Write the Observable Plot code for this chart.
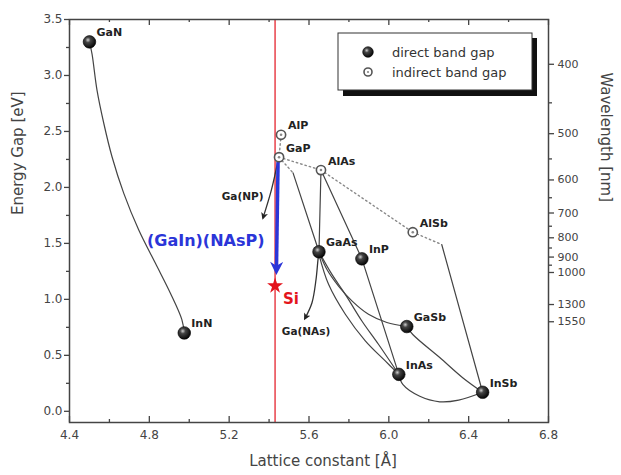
<!DOCTYPE html>
<html><head><meta charset="utf-8">
<script src="https://cdn.jsdelivr.net/npm/d3@7"></script>
<script src="https://cdn.jsdelivr.net/npm/@observablehq/plot@0.6"></script>
<style>body{margin:0;background:#fff;}</style>
</head><body><div id="chart"></div>
<script>
// ---- data ----
const directNames = ["GaN","InN","GaAs","InP","GaSb","InAs","InSb"];
const directA     = [4.50, 4.975, 5.65, 5.865, 6.09, 6.05, 6.47];
const directE     = [3.30, 0.70, 1.425, 1.362, 0.757, 0.33, 0.17];

const indirectNames = ["AlP","GaP","AlAs","AlSb"];
const indirectA     = [5.46, 5.45, 5.66, 6.12];
const indirectE     = [2.47, 2.27, 2.155, 1.60];

const siA = 5.43, siE = 1.12;

// solid alloy curves [a, E]
const curveGaNInN  = [[4.50,3.30],[4.513,3.19],[4.538,2.867],[4.572,2.571],[4.613,2.274],[4.672,1.947],[4.747,1.62],[4.83,1.324],[4.905,1.057],[4.963,0.819],[4.975,0.70]];
const curveGaPGaAs = [[5.52,2.13],[5.65,1.425]];
const curveAlAsGaAs = [[5.66,2.155],[5.65,1.425]];
const curveAlAsInP = [[5.66,2.155],[5.865,1.362]];
const curveInPInAs = [[5.865,1.362],[6.05,0.33]];
const curveGaAsGaSb = [[5.65,1.425],[5.69,1.267],[5.748,1.119],[5.815,0.986],[5.898,0.866],[5.99,0.793],[6.09,0.757]];
const curveGaAsInAs1 = [[5.65,1.425],[5.715,1.223],[5.782,1.045],[5.865,0.807],[5.948,0.599],[6.05,0.33]];
const curveGaAsInAs2 = [[5.65,1.40],[5.698,1.134],[5.782,0.867],[5.882,0.63],[5.982,0.45],[6.05,0.33]];
const curveGaSbInSb = [[6.09,0.757],[6.12,0.686],[6.255,0.48],[6.37,0.30],[6.47,0.17]];
const curveInAsInSb = [[6.05,0.33],[6.07,0.24],[6.155,0.134],[6.255,0.085],[6.35,0.10],[6.47,0.17]];
const curveAlSbInSb = [[6.265,1.49],[6.47,0.17]];

// dotted (indirect) parts
const dotAlPGaP  = [[5.46,2.47],[5.45,2.27]];
const dotGaPAlAs = [[5.45,2.27],[5.66,2.155]];
const dotGaPGaAs = [[5.45,2.27],[5.52,2.13]];
const dotAlAsAlSb = [[5.66,2.155],[6.12,1.60]];
const dotAlSbInSb = [[6.12,1.60],[6.265,1.49]];

// arrows
const arrowGaNP  = [[5.445,2.244],[5.412,1.98],[5.37,1.73]];
const arrowGaNAs = [[5.65,1.425],[5.645,1.354],[5.635,1.175],[5.615,0.97],[5.58,0.83]];
const arrowBlue  = [[5.445,2.23],[5.437,1.265]];

// annotation labels
const annNames = ["Ga(NP)","Ga(NAs)"];
const annA = [5.2675, 5.585];
const annE = [1.915, 0.712];
const blueLabel = "(GaIn)(NAsP)", blueA = 5.0825, blueE = 1.523;

// axes
const xMajor = [4.4,4.8,5.2,5.6,6.0,6.4,6.8];
const xMinor = [4.6,5.0,5.4,5.8,6.2,6.6];
const yMajor = [0,0.5,1.0,1.5,2.0,2.5,3.0,3.5];
const yMinor = [0.25,0.75,1.25,1.75,2.25,2.75,3.25];
const wlMajor = [400,500,600,700,800,900,1000,1300,1550];
const wlMinor = [450,550,650,750,850,950];
const hc = 1240;

// legend entries
const legendLabels = ["direct band gap","indirect band gap"];

// ---- build tables ----
const direct = directNames.map((n,i)=>({n, a:directA[i], e:directE[i]}));
const indirect = indirectNames.map((n,i)=>({n, a:indirectA[i], e:indirectE[i]}));
const allPts = direct.concat(indirect);
const toRows = list => list.flatMap(([k,pts]) => pts.map(([a,e]) => ({k,a,e})));
const solidRows = toRows([["GaN-InN",curveGaNInN],["GaP-GaAs",curveGaPGaAs],["AlAs-GaAs",curveAlAsGaAs],["AlAs-InP",curveAlAsInP],["InP-InAs",curveInPInAs],["GaAs-GaSb",curveGaAsGaSb],["GaAs-InAs1",curveGaAsInAs1],["GaAs-InAs2",curveGaAsInAs2],["GaSb-InSb",curveGaSbInSb],["InAs-InSb",curveInAsInSb],["AlSb-InSb",curveAlSbInSb]]);
const dotRows = toRows([["a",dotAlPGaP],["b",dotGaPAlAs],["c",dotGaPGaAs],["d",dotAlAsAlSb],["e",dotAlSbInSb]]);
const ann = annNames.map((t,i)=>({t, a:annA[i], e:annE[i]}));

const H = 475-19-53;
const svg = Plot.plot({
  width: 621, height: 475,
  marginLeft: 69, marginRight: 73, marginTop: 19, marginBottom: 53,
  style: {fontFamily: "DejaVu Sans", fontSize: "12px", color: "#444", background: "white", overflow: "visible"},
  x: {domain: [4.4, 6.8]},
  y: {domain: [-0.1, 3.5]},
  marks: [
    Plot.ruleX([siA], {stroke: "#e8414a", strokeWidth: 1.5}),
    Plot.line(solidRows, {x: "a", y: "e", z: "k", stroke: "#444", strokeWidth: 1.2, curve: "catmull-rom"}),
    Plot.line(dotRows, {x: "a", y: "e", z: "k", stroke: "#888", strokeWidth: 1.4, strokeDasharray: "1.5,3", curve: "linear"}),
    Plot.line(arrowGaNP, {x: d=>d[0], y: d=>d[1], stroke: "#333", strokeWidth: 1.3, curve: "catmull-rom", ariaDescription: "arrow-black"}),
    Plot.line(arrowGaNAs, {x: d=>d[0], y: d=>d[1], stroke: "#333", strokeWidth: 1.3, curve: "catmull-rom", ariaDescription: "arrow-black"}),
    Plot.line(arrowBlue, {x: d=>d[0], y: d=>d[1], stroke: "#2b35d8", strokeWidth: 3.5, strokeLinecap: "butt", ariaDescription: "arrow-blue"}),
    Plot.dot(direct, {x: "a", y: "e", r: 6.3, fill: "url(#sphere)", stroke: "#000", strokeWidth: 0.6}),
    Plot.dot(indirect, {x: "a", y: "e", r: 4.6, fill: "white", stroke: "#555", strokeWidth: 1.6}),
    Plot.dot(indirect, {x: "a", y: "e", r: 1.3, fill: "#888"}),
    Plot.dot([0], {x: () => siA, y: () => siE, symbol: "star", r: 5, fill: "#e3141c"}),
    Plot.text(allPts, {x: "a", y: "e", text: "n", dx: 7, dy: -9, textAnchor: "start", fontWeight: "bold", fontSize: 11, fill: "#222"}),
    Plot.text(["Si"], {x: () => siA, y: () => siE, text: d => d, dx: 8, dy: 13, textAnchor: "start", fontWeight: "bold", fontSize: 15, fill: "#e3141c"}),
    Plot.text(ann, {x: "a", y: "e", text: "t", fontWeight: "bold", fontSize: 10.5, fill: "#222"}),
    Plot.text([blueLabel], {x: () => blueA, y: () => blueE, text: d => d, fontWeight: "bold", fontSize: 16, fill: "#2b35d8"}),
    Plot.frame({stroke: "#444", strokeWidth: 1.5}),
    // bottom axis labels and inward ticks
    Plot.axisX(xMajor, {anchor: "bottom", tickSize: 0, tickPadding: 8, tickFormat: d3.format(".1f"), label: null, fill: "#444"}),
    Plot.tickX(xMajor, {x: d => d, insetTop: H - 6, stroke: "#444", strokeWidth: 1.3}),
    Plot.tickX(xMinor, {x: d => d, insetTop: H - 3, stroke: "#444", strokeWidth: 1.3}),
    Plot.tickX(xMajor, {x: d => d, insetBottom: H - 6, stroke: "#444", strokeWidth: 1.3}),
    Plot.tickX(xMinor, {x: d => d, insetBottom: H - 3, stroke: "#444", strokeWidth: 1.3}),
    // left axis
    Plot.axisY(yMajor, {anchor: "left", tickSize: 5, tickPadding: 2, tickFormat: d3.format(".1f"), label: null, strokeWidth: 1.3}),
    Plot.axisY(yMinor, {anchor: "left", tickSize: 3, tickFormat: () => "", label: null, strokeWidth: 1.3}),
    // right axis (wavelength)
    Plot.axisY(wlMajor.map(w => hc / w), {anchor: "right", tickSize: 5, tickPadding: 4, tickFormat: d => String(Math.round(hc / d)), label: null, fontSize: 11, strokeWidth: 1.3}),
    Plot.axisY(wlMinor.map(w => hc / w), {anchor: "right", tickSize: 3, tickFormat: () => "", label: null, strokeWidth: 1.3}),
    // axis titles
    Plot.text(["Energy Gap [eV]"], {text: d => d, frameAnchor: "left", dx: -51, dy: -6, rotate: -90, fontSize: 15, fill: "#444"}),
    Plot.text(["Wavelength [nm]"], {text: d => d, frameAnchor: "right", dx: 57, dy: -19, rotate: 90, fontSize: 15, fill: "#444"}),
    Plot.text(["Lattice constant [Å]"], {text: d => d, frameAnchor: "bottom", dx: 14, dy: 43, fontSize: 15, fill: "#444"})
  ]
});

const s = d3.select(svg);
s.insert("defs", ":first-child").html(`
  <radialGradient id="sphere" cx="38%" cy="35%" r="70%">
    <stop offset="0%" stop-color="#cfcfcf"/>
    <stop offset="30%" stop-color="#444"/>
    <stop offset="100%" stop-color="#000"/>
  </radialGradient>
  <marker id="ahBlack" viewBox="0 0 10 10" refX="7" refY="5" markerWidth="8" markerHeight="7" markerUnits="userSpaceOnUse" orient="auto">
    <path d="M0,0L10,5L0,10L2.5,5Z" fill="#222"/>
  </marker>
  <marker id="ahBlue" viewBox="0 0 10 10" refX="6" refY="5" markerWidth="14" markerHeight="13" markerUnits="userSpaceOnUse" orient="auto">
    <path d="M0,0L10,5L0,10L3,5Z" fill="#2b35d8"/>
  </marker>`);
s.selectAll('g[aria-description="arrow-black"] path').attr("marker-end", "url(#ahBlack)");
s.selectAll('g[aria-description="arrow-blue"] path').attr("marker-end", "url(#ahBlue)");

// legend
const L = s.append("g").attr("font-family", "DejaVu Sans").attr("text-anchor", "start");
L.append("rect").attr("x", 343).attr("y", 38).attr("width", 194).attr("height", 58).attr("fill", "#111");
L.append("rect").attr("x", 338).attr("y", 33).attr("width", 194).attr("height", 57).attr("fill", "white").attr("stroke", "#333").attr("stroke-width", 1);
L.append("circle").attr("cx", 368).attr("cy", 52).attr("r", 5.3).attr("fill", "url(#sphere)").attr("stroke", "#000").attr("stroke-width", 0.6);
L.append("circle").attr("cx", 368).attr("cy", 72).attr("r", 4).attr("fill", "white").attr("stroke", "#555").attr("stroke-width", 1.6);
L.append("circle").attr("cx", 368).attr("cy", 72).attr("r", 1.1).attr("fill", "#888");
L.append("text").attr("x", 392).attr("y", 52).attr("dy", "0.35em").attr("font-size", 13).attr("fill", "#333").attr("text-anchor", "start").text(legendLabels[0]);
L.append("text").attr("x", 392).attr("y", 72).attr("dy", "0.35em").attr("font-size", 13).attr("fill", "#333").attr("text-anchor", "start").text(legendLabels[1]);

document.getElementById("chart").append(svg);
</script></body></html>
